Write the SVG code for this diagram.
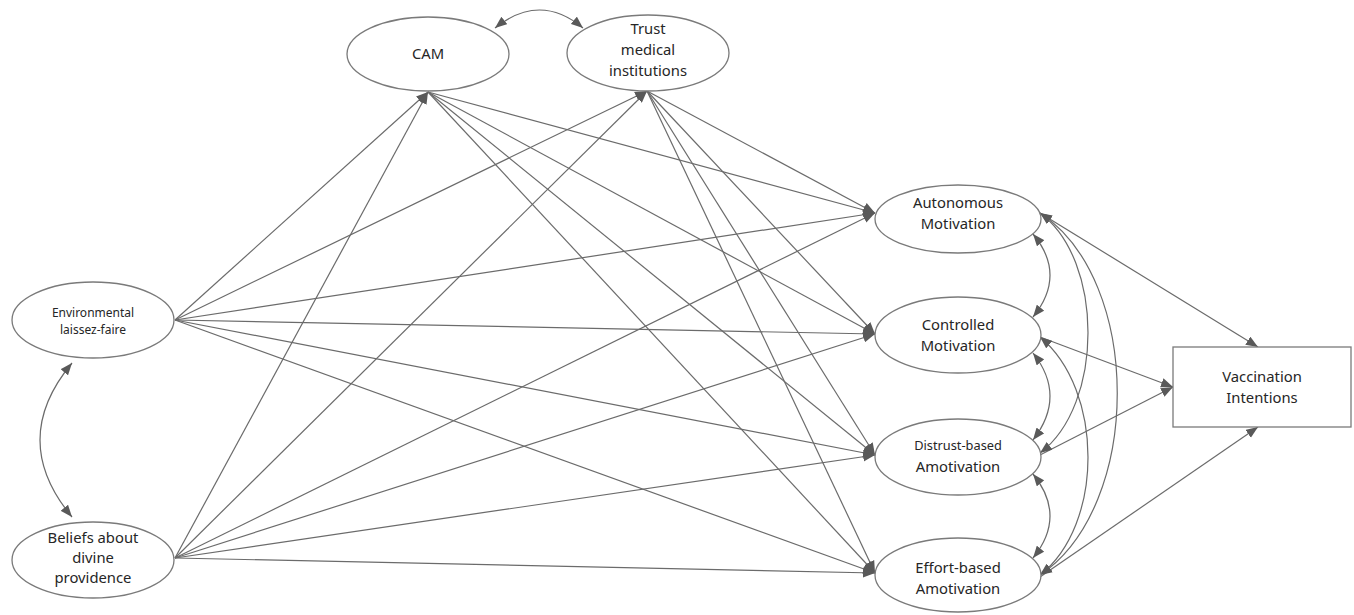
<svg xmlns="http://www.w3.org/2000/svg" width="1354" height="615" viewBox="0 0 1354 615">
<style>
.node{fill:#fff;stroke:#7a7a7a;stroke-width:1.3}
.t{font-family:"Noto Sans","Open Sans",sans-serif;font-size:14.8px;fill:#262626;text-anchor:middle}
.s{font-size:12px}
.d{font-size:12.8px}
.e{fill:none;stroke:#6b6b6b;stroke-width:1.2;marker-end:url(#ah)}
.c{fill:none;stroke:#6b6b6b;stroke-width:1.2;marker-end:url(#ah);marker-start:url(#ah)}
</style>
<defs>
<marker id="ah" viewBox="0 0 10 8" refX="10" refY="4" markerWidth="12" markerHeight="10" markerUnits="userSpaceOnUse" orient="auto-start-reverse">
<path d="M0,0 L10,4 L0,8 z" fill="#595959"/>
</marker>
</defs>
<rect width="1354" height="615" fill="#fff"/>
<g id="connectors">
<path class="e" d="M175,320 L428,92"/>
<path class="e" d="M175,320 L647,91"/>
<path class="e" d="M175,558 L428,92"/>
<path class="e" d="M175,558 L647,91"/>
<path class="e" d="M428,92 L875,213"/>
<path class="e" d="M428,92 L875,334"/>
<path class="e" d="M428,92 L875,455"/>
<path class="e" d="M428,92 L875,573"/>
<path class="e" d="M647,91 L875,213"/>
<path class="e" d="M647,91 L875,334"/>
<path class="e" d="M647,91 L875,455"/>
<path class="e" d="M647,91 L875,573"/>
<path class="e" d="M175,320 L875,213"/>
<path class="e" d="M175,320 L875,334"/>
<path class="e" d="M175,320 L875,455"/>
<path class="e" d="M175,320 L875,573"/>
<path class="e" d="M175,558 L875,213"/>
<path class="e" d="M175,558 L875,334"/>
<path class="e" d="M175,558 L875,455"/>
<path class="e" d="M175,558 L875,573"/>
<path class="e" d="M1040,213 L1258,347"/>
<path class="e" d="M1040,337 L1173,387"/>
<path class="e" d="M1040,455 L1173,387"/>
<path class="e" d="M1040,577 L1258,427"/>
<path class="c" d="M583,28 Q540,-8 495,28"/>
<path class="c" d="M72,517 Q8,440 72,363"/>
<path class="c" d="M1033,234 Q1067,275 1033,317"/>
<path class="c" d="M1033,353 Q1067,396 1033,440"/>
<path class="c" d="M1033,474 Q1067,516 1033,558"/>
<path class="c" d="M1040,213 C1104,260 1104,405 1040,453"/>
<path class="c" d="M1040,213 C1143,280 1143,506 1040,575"/>
<path class="c" d="M1040,337 C1104,390 1104,525 1040,575"/>
</g>
<g id="cam"><ellipse class="node" cx="428" cy="54" rx="81" ry="37"/><text class="t" x="428" y="59">CAM</text></g>
<g id="trust"><ellipse class="node" cx="648" cy="53" rx="81" ry="38"/><text class="t" x="648" y="34">Trust</text><text class="t" x="648" y="55">medical</text><text class="t" x="648" y="76">institutions</text></g>
<g id="env"><ellipse class="node" cx="93" cy="320" rx="81" ry="38"/><text class="t s" x="93" y="317">Environmental</text><text class="t s" x="93" y="334">laissez-faire</text></g>
<g id="beliefs"><ellipse class="node" cx="93" cy="560" rx="81" ry="38"/><text class="t" x="93" y="543">Beliefs about</text><text class="t" x="93" y="563">divine</text><text class="t" x="93" y="583">providence</text></g>
<g id="autonomous"><ellipse class="node" cx="958" cy="219" rx="83" ry="34"/><text class="t" x="958" y="208">Autonomous</text><text class="t" x="958" y="229">Motivation</text></g>
<g id="controlled"><ellipse class="node" cx="958" cy="335" rx="83" ry="38"/><text class="t" x="958" y="330">Controlled</text><text class="t" x="958" y="351">Motivation</text></g>
<g id="distrust"><ellipse class="node" cx="958" cy="457" rx="83" ry="38"/><text class="t d" x="958" y="450">Distrust-based</text><text class="t" x="958" y="472">Amotivation</text></g>
<g id="effort"><ellipse class="node" cx="958" cy="575" rx="83" ry="37"/><text class="t" x="958" y="573">Effort-based</text><text class="t" x="958" y="594">Amotivation</text></g>
<g id="vaccination"><rect class="node" x="1173" y="347" width="178" height="80"/><text class="t" x="1262" y="382">Vaccination</text><text class="t" x="1262" y="403">Intentions</text></g>
</svg>
